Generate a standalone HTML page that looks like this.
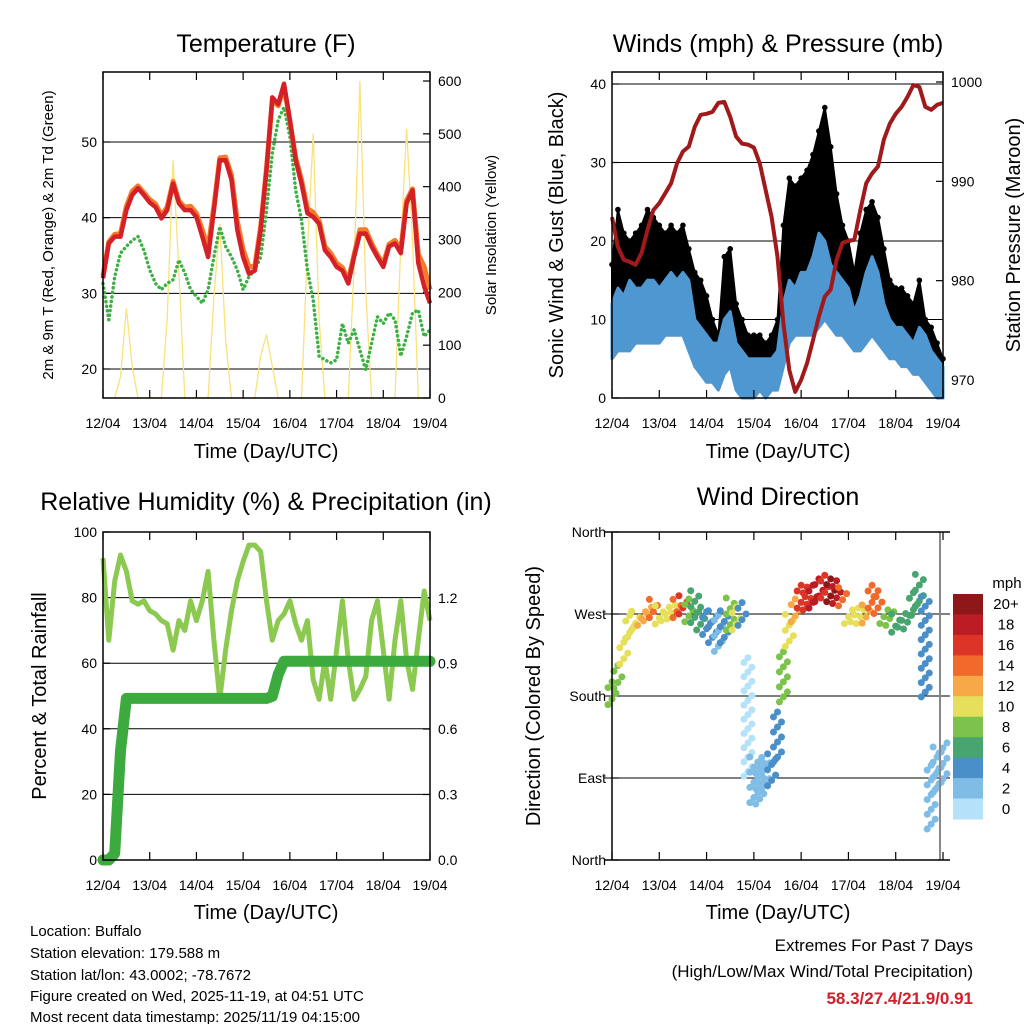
<!DOCTYPE html>
<html><head><meta charset="utf-8">
<style>
html,body{margin:0;padding:0;background:#fff;}
svg{display:block;font-family:"Liberation Sans",Arial,sans-serif;}
</style></head>
<body>
<svg id="chart" width="1024" height="1024" viewBox="0 0 1024 1024" xmlns="http://www.w3.org/2000/svg">
<rect width="1024" height="1024" fill="#fff"/>
<text x="266" y="52" font-size="25" text-anchor="middle">Temperature (F)</text>
<text x="778" y="52" font-size="25" text-anchor="middle">Winds (mph) &amp; Pressure (mb)</text>
<text x="266" y="510" font-size="25" text-anchor="middle">Relative Humidity (%) &amp; Precipitation (in)</text>
<text x="778" y="505" font-size="25" text-anchor="middle">Wind Direction</text>

<text transform="translate(53,235) rotate(-90)" font-size="15" text-anchor="middle">2m &amp; 9m T (Red, Orange) &amp; 2m Td (Green)</text>
<text transform="translate(496,235) rotate(-90)" font-size="15" text-anchor="middle">Solar Insolation (Yellow)</text>
<text transform="translate(563,235) rotate(-90)" font-size="20" text-anchor="middle">Sonic Wind &amp; Gust (Blue, Black)</text>
<text transform="translate(1020,235) rotate(-90)" font-size="20" text-anchor="middle">Station Pressure (Maroon)</text>
<text transform="translate(46,696) rotate(-90)" font-size="20" text-anchor="middle">Percent &amp; Total Rainfall</text>
<text transform="translate(540,696) rotate(-90)" font-size="20" text-anchor="middle">Direction (Colored By Speed)</text>

<text x="266" y="458" font-size="20" text-anchor="middle">Time (Day/UTC)</text>
<text x="778" y="458" font-size="20" text-anchor="middle">Time (Day/UTC)</text>
<text x="266" y="919" font-size="20" text-anchor="middle">Time (Day/UTC)</text>
<text x="778" y="919" font-size="20" text-anchor="middle">Time (Day/UTC)</text>

<g font-size="15">
<text x="30" y="936">Location: Buffalo</text>
<text x="30" y="958">Station elevation: 179.588 m</text>
<text x="30" y="980">Station lat/lon: 43.0002; -78.7672</text>
<text x="30" y="1001">Figure created on Wed, 2025-11-19, at 04:51 UTC</text>
<text x="30" y="1022">Most recent data timestamp: 2025/11/19 04:15:00</text>
</g>
<g text-anchor="end">
<text x="973" y="951" font-size="17">Extremes For Past 7 Days</text>
<text x="973" y="977" font-size="17">(High/Low/Max Wind/Total Precipitation)</text>
<text x="973" y="1004" font-size="17" font-weight="bold" fill="#d0202a">58.3/27.4/21.9/0.91</text>
</g>
</svg>
<script>
// ---- data (3-hourly samples from 12/04 00 UTC) ----
const dayLabels = ["12/04","13/04","14/04","15/04","16/04","17/04","18/04","19/04"];
const temp2m = [32,36.6,37.5,37.5,41,43,43.9,43,42,41.4,39.9,41,44.5,41.9,41,41,40.1,37.5,34.8,41,47.6,47.6,45,38.4,34.8,32.6,33,38.4,46.3,55.9,55,57.7,52.9,47.6,44.5,40.6,40.1,39.2,35.7,34.8,33.5,33,31.3,34.8,37.9,37.9,36.2,34.8,33.5,36.2,36.6,35.3,41.9,43.6,34,30.9,28.7];
const temp9m = [32.3,36.8,37.8,37.9,41.5,43.5,44.2,43.3,42.4,41.8,40.3,41.4,44.8,42.2,41.4,41.5,40.6,38.4,36,41.5,47.9,48,45.6,39.5,35.8,33.5,33.6,38.8,46.5,55.5,54.8,57.3,52.8,47.9,45,41.2,40.7,39.6,36.2,35.3,34,33.4,31.7,35.1,38.4,38.4,36.6,35.1,33.9,36.5,37,35.8,42.3,43.8,35.2,33.5,30.5];
const dewpoint = [31.3,26.5,32.2,35.3,36.2,37,37.5,35.7,33.1,31.3,30.5,31.3,31.8,34.4,32.7,30.5,29.6,28.7,30.5,34.8,38.8,36.2,34.8,33.1,30.5,32.2,33.1,34.8,41,48.5,52.9,54.6,50.7,43.6,39.7,33.1,29.1,21.7,21.2,20.8,21.2,26,23.4,25.2,22.5,19.9,23.4,26.9,26,27.4,26.5,21.7,24.3,27.4,27.8,24.3,25.2];
const solar = [0,0,0,40,170,60,0,0,0,0,0,150,450,240,0,0,0,0,0,190,330,110,0,0,0,0,0,80,120,60,0,0,0,0,0,280,500,150,0,0,0,0,0,250,600,200,0,0,0,0,0,290,510,300,0,0,0];
const pressure = [986.4,983.4,982.1,981.9,981.6,982.8,985.1,987.1,987.8,988.8,989.8,991.8,993,993.5,995.5,996.7,996.8,997,997.9,998,996.5,994.5,993.8,993.7,993.4,991.8,989.1,986.4,982.4,975.7,971,968.8,970,971.7,974,976.4,978.4,979.1,982.1,983.8,984,984.1,987.1,989.8,990.8,991.5,994.2,995.8,996.8,997.5,998.5,999.7,999.5,997.5,997.2,997.7,997.9];
const windHigh = [12,14,13,15,14,14,15,15,14,15,16,15,16,15,10,9,8,7,7,10,11,7,6,5,5,5,5,5,6,12,15,14,16,16,18,21,20,17,16,15,14,11,13,16,18,16,12,10,9,9,8,7,9,8,6,5,4];
const windLow = [5,6,6,6,7,7,7,7,7,8,8,8,8,6,4,3,2,2,1,3,4,1,0,0,0,1,0,1,1,4,7,8,8,8,8,9,10,9,8,8,7,6,6,7,8,7,6,5,5,4,4,3,3,2,1,0,0];
const gustHigh = [17,24,21,20,21,22,24,23,22,21,22,21,22,19,16,15,13,10,8,18,19,12,10,8,8,8,7,8,10,22,28,27,28,29,31,34,37,32,26,22,20,16,21,24,25,23,19,15,14,14,13,12,15,10,9,7,5];
const rh = [92,67,85,93,88,79,78,79,76,75,73,72,64,73,70,79,73,79,88,67,49,64,76,85,91,96,96,94,79,67,73,75,79,72,67,73,55,49,61,49,64,79,61,49,52,56,73,79,64,49,67,79,61,52,67,82,73];
const precip = [0,0,0.03,0.5,0.74,0.74,0.74,0.74,0.74,0.74,0.74,0.74,0.74,0.74,0.74,0.74,0.74,0.74,0.74,0.74,0.74,0.74,0.74,0.74,0.74,0.74,0.74,0.74,0.74,0.75,0.85,0.91,0.91,0.91,0.91,0.91,0.91,0.91,0.91,0.91,0.91,0.91,0.91,0.91,0.91,0.91,0.91,0.91,0.91,0.91,0.91,0.91,0.91,0.91,0.91,0.91,0.91];
const windDir = [183,201,230,256,263,265,270,276,269,270,272,276,280,274,278,265,260,256,249,256,270,265,270,157,88,84,95,99,135,201,252,274,289,287,289,296,300,296,294,289,267,269,267,270,289,283,267,265,260,263,261,281,296,234,69,99,106];
const dirSpread = [25,25,30,25,20,15,15,20,20,15,15,20,20,25,35,25,25,35,40,35,35,25,25,130,50,45,35,35,55,55,35,25,25,25,25,25,25,25,25,20,15,15,15,20,25,25,15,15,20,15,15,25,35,110,70,50,45];
const dirSpeed = [8,9,11,10,11,12,13,15,10,11,11,15,16,9,6,6,4,4,2,4,8,10,5,1,2,3,3,4,4,9,11,13,16,17,18,19,17,20,18,15,10,10,11,12,15,15,9,8,6,6,6,6,7,5,3,3,3];
const tempTicks = [20,30,40,50];
const solarTicks = [0,100,200,300,400,500,600];
const windTicks = [0,10,20,30,40];
const pressTicks = [970,980,990,1000];
const rhTicks = [0,20,40,60,80,100];
const precipTicks = ["0.0","0.3","0.6","0.9","1.2"];
const dirTicks = [0,90,180,270,360];
const dirNames = ["North","East","South","West","North"];
const speedBins = ["0","2","4","6","8","10","12","14","16","18","20+"];
const speedColors = ["#b5e2f8","#80bde6","#4a8fc7","#48a56f","#7cc24b","#e6df5b","#f6a946","#ef6a2b","#dc3427","#bc1c24","#8e1819"];

// ---- helpers ----
const svg = document.getElementById('chart');
const NS = 'http://www.w3.org/2000/svg';
function el(tag, attrs, parent){ const e=document.createElementNS(NS,tag); for(const k in attrs) e.setAttribute(k,attrs[k]); (parent||svg).appendChild(e); return e; }
function lin(d0,d1,p0,p1){ return v => p0+(v-d0)*(p1-p0)/(d1-d0); }
const hoursOf = i => i*3;
function pathFrom(arr, xs, ys){ return arr.map((v,i)=>(i?'L':'M')+xs(hoursOf(i)).toFixed(1)+','+ys(v).toFixed(1)).join(''); }
function bandFrom(lo, hi, xs, ys){
  let d = hi.map((v,i)=>(i?'L':'M')+xs(hoursOf(i)).toFixed(1)+','+ys(v).toFixed(1)).join('');
  for(let i=lo.length-1;i>=0;i--) d+='L'+xs(hoursOf(i)).toFixed(1)+','+ys(lo[i]).toFixed(1);
  return d+'Z';
}
function xAxis(x0,x1,yB,yT,xs,name){
  const g = el('g',{});
  
  
  dayLabels.forEach((lab,i)=>{
    const x = xs(i*24);
    el('line',{x1:x,x2:x,y1:yB,y2:yB-8,stroke:'#000','stroke-width':1.2},g);
    el('line',{x1:x,x2:x,y1:yT,y2:yT+8,stroke:'#000','stroke-width':1.2},g);
    const t = el('text',{x:x,y:yB+30,'font-size':14,'text-anchor':'middle'},g);
    
    
    t.textContent = lab;
  });
}
function yTicks(vals, labels, ys, xEdge, side, gridX0, gridX1, name, grid){
  const g = el('g',{});
  
  
  vals.forEach((v,i)=>{
    const y = ys(v);
    if(grid) el('line',{x1:gridX0,x2:gridX1,y1:y,y2:y,stroke:'#000','stroke-width':1},g);
    const dir = side==='left'?1:-1;
    el('line',{x1:xEdge,x2:xEdge+dir*7,y1:y,y2:y,stroke:'#000','stroke-width':1.2},g);
    const t = el('text',{x:side==='left'?xEdge-6:xEdge+8,y:y+5,'font-size':14,'text-anchor':side==='left'?'end':'start'},g);
    
    
    t.textContent = labels[i];
  });
}
function box(x0,y0,x1,y1,name){
  const r = el('rect',{x:x0,y:y0,width:x1-x0,height:y1-y0,fill:'none',stroke:'#000','stroke-width':1.5});
  
  
}
function speedColor(s){ let b=Math.floor(s/2); if(b>10)b=10; if(b<0)b=0; return speedColors[b]; }

// ---- Panel 1: Temperature ----
(function(){
  const xs = lin(0,168,103,430), yT = lin(20,50,369,142), yS = lin(0,600,398,81);
  yTicks(tempTicks, tempTicks, yT, 103, 'left', 103, 430, 'temp-y-ticks', true);
  yTicks(solarTicks, solarTicks, yS, 430, 'right', 0,0, 'solar-y-ticks', false);
  const sol = el('path',{d:pathFrom(solar,xs,yS),fill:'none',stroke:'#f9e27a','stroke-width':1.3});
  
  
  const dp = el('path',{d:pathFrom(dewpoint,xs,yT),fill:'none',stroke:'#3cb043','stroke-width':3.5,'stroke-linecap':'round','stroke-dasharray':'0.1 4.5'});
  
  
  const t9 = el('path',{d:pathFrom(temp9m,xs,yT),fill:'none',stroke:'#f47b2a','stroke-width':5,'stroke-linejoin':'round'});
  
  
  const t2 = el('path',{d:pathFrom(temp2m,xs,yT),fill:'none',stroke:'#d42027','stroke-width':4.5,'stroke-linejoin':'round'});
  
  
  box(103,72,430,398,'temp-plot-frame');
  xAxis(103,430,398,72,xs,'temp');
})();

// ---- Panel 2: Winds & Pressure ----
(function(){
  const xs = lin(0,168,612,943), yW = lin(0,40,398,84), yP = lin(970,1000,380,82);
  yTicks(windTicks, windTicks, yW, 612, 'left', 612, 943, 'wind-y-ticks', true);
  yTicks(pressTicks, pressTicks, yP, 943, 'right', 0,0, 'pressure-y-ticks', false);
  const gust = el('path',{d:bandFrom(windHigh,gustHigh,xs,yW),fill:'#000',stroke:'#000','stroke-width':2,'stroke-linejoin':'round'});
  
  
  gustHigh.forEach((v,i)=>{
    const c = el('circle',{cx:xs(hoursOf(i)),cy:yW(v),r:2.8,fill:'#000'});
    
    
  });
  const wb = el('path',{d:bandFrom(windLow,windHigh,xs,yW),fill:'#4f97d1',stroke:'#4f97d1','stroke-width':3,'stroke-linejoin':'round'});
  
  
  const pr = el('path',{d:pathFrom(pressure,xs,yP),fill:'none',stroke:'#a01a1c','stroke-width':4,'stroke-linejoin':'round'});
  
  
  box(612,72,943,398,'winds-plot-frame');
  xAxis(612,943,398,72,xs,'winds');
})();

// ---- Panel 3: RH & Precip ----
(function(){
  const xs = lin(0,168,103,430), yR = lin(0,100,860,532), yPr = lin(0,1.2,860,598);
  yTicks(rhTicks, rhTicks, yR, 103, 'left', 103, 430, 'rh-y-ticks', true);
  yTicks(precipTicks.map(Number), precipTicks, yPr, 430, 'right', 0,0, 'precip-y-ticks', false);
  const r = el('path',{d:pathFrom(rh,xs,yR),fill:'none',stroke:'#8cc950','stroke-width':5,'stroke-linejoin':'round'});
  
  
  const p = el('path',{d:pathFrom(precip,xs,yPr),fill:'none',stroke:'#3daa3f','stroke-width':11,'stroke-linejoin':'round','stroke-linecap':'round'});
  
  
  box(103,532,430,860,'rh-plot-frame');
  xAxis(103,430,860,532,xs,'rh');
})();

// ---- Panel 4: Wind Direction ----
(function(){
  const xs = lin(0,168,612,943), yD = lin(0,360,860,532);
  yTicks(dirTicks, dirNames, yD, 612, 'left', 604, 950, 'direction-y-ticks', true);
  windDir.forEach((d,i)=>{
    const n = Math.max(3, Math.round(dirSpread[i]/5));
    for(let j=0;j<n;j++){
      const dd = d - dirSpread[i]/2 + dirSpread[i]*j/(n-1);
      const dx = (j%3-1)*4;
      const c = el('circle',{cx:xs(hoursOf(i))+dx,cy:yD(dd),r:3.5,fill:speedColor(dirSpeed[i])});
      
      
    }
  });
  el('line',{x1:940,x2:940,y1:532,y2:860,stroke:'#888','stroke-width':2});
  el('line',{x1:612,x2:612,y1:532,y2:860,stroke:'#000','stroke-width':1.5});
  el('line',{x1:604,x2:950,y1:532,y2:532,stroke:'#000','stroke-width':1.5});
  el('line',{x1:604,x2:950,y1:860,y2:860,stroke:'#000','stroke-width':1.5});
  xAxis(612,943,860,532,xs,'direction');
  const cb = el('g',{});
  
  
  const h = 225/speedBins.length;
  const mt = el('text',{x:1007,y:588,'font-size':15,'text-anchor':'middle'},cb);
  
  
  mt.textContent='mph';
  speedBins.forEach((lab,i)=>{
    const k = speedBins.length-1-i;
    const y = 594 + i*h;
    const r = el('rect',{x:953,y:y,width:30,height:h+0.5,fill:speedColors[k]},cb);
    
    
    const t = el('text',{x:1006,y:y+h/2+5,'font-size':15,'text-anchor':'middle'},cb);
    
    
    t.textContent = speedBins[k];
  });
})();
</script>
</body></html>
